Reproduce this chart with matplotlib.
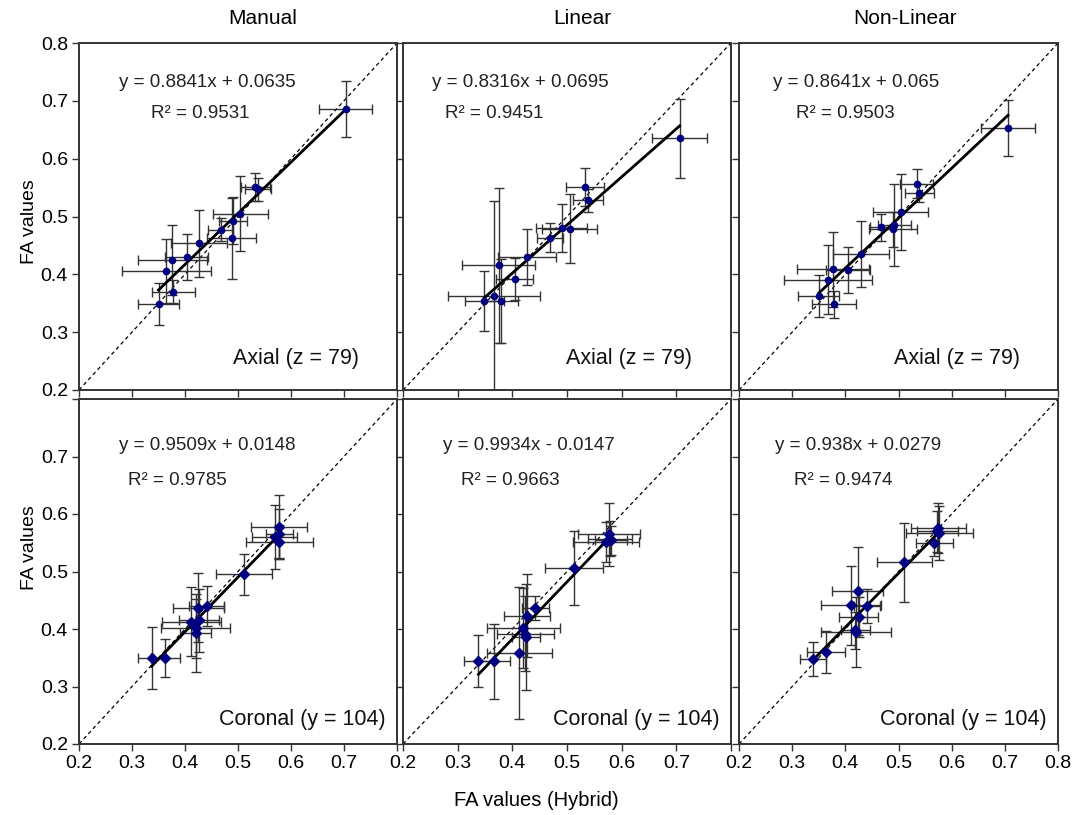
import matplotlib.pyplot as plt

plt.rcParams['font.family'] = ['Liberation Sans', 'DejaVu Sans']

# FA values (Hybrid) on x, method FA on y, with SD error bars
# --- Axial (z = 79) ---
manual_ax_x = [0.703, 0.533, 0.538, 0.504, 0.491, 0.467, 0.488, 0.426, 0.403, 0.376, 0.365, 0.378, 0.350]
manual_ax_y = [0.686, 0.551, 0.547, 0.505, 0.493, 0.477, 0.462, 0.454, 0.430, 0.425, 0.406, 0.370, 0.349]
manual_ax_xerr = [0.050, 0.028, 0.024, 0.052, 0.026, 0.023, 0.046, 0.053, 0.041, 0.065, 0.084, 0.041, 0.039]
manual_ax_yerr = [0.048, 0.025, 0.020, 0.065, 0.040, 0.020, 0.070, 0.058, 0.040, 0.060, 0.055, 0.020, 0.036]

linear_ax_x = [0.706, 0.533, 0.538, 0.490, 0.505, 0.469, 0.426, 0.375, 0.404, 0.366, 0.349, 0.379]
linear_ax_y = [0.635, 0.551, 0.528, 0.480, 0.479, 0.463, 0.430, 0.416, 0.392, 0.363, 0.354, 0.354]
linear_ax_xerr = [0.050, 0.034, 0.027, 0.046, 0.050, 0.023, 0.053, 0.067, 0.034, 0.084, 0.035, 0.032]
linear_ax_yerr = [0.068, 0.032, 0.020, 0.042, 0.060, 0.025, 0.048, 0.134, 0.036, 0.163, 0.052, 0.072]

nonlin_ax_x = [0.706, 0.534, 0.539, 0.504, 0.492, 0.468, 0.490, 0.429, 0.377, 0.405, 0.368, 0.350, 0.379]
nonlin_ax_y = [0.653, 0.557, 0.541, 0.508, 0.485, 0.481, 0.478, 0.435, 0.409, 0.407, 0.391, 0.362, 0.348]
nonlin_ax_xerr = [0.050, 0.031, 0.027, 0.052, 0.031, 0.022, 0.045, 0.053, 0.068, 0.042, 0.083, 0.039, 0.041]
nonlin_ax_yerr = [0.048, 0.025, 0.016, 0.066, 0.071, 0.023, 0.030, 0.057, 0.065, 0.040, 0.060, 0.036, 0.024]

# --- Coronal (y = 104) ---
manual_co_x = [0.578, 0.569, 0.578, 0.578, 0.512, 0.441, 0.425, 0.412, 0.427, 0.420, 0.420, 0.337, 0.363]
manual_co_y = [0.578, 0.560, 0.565, 0.551, 0.495, 0.440, 0.437, 0.413, 0.415, 0.401, 0.393, 0.350, 0.350]
manual_co_xerr = [0.053, 0.042, 0.025, 0.063, 0.053, 0.033, 0.048, 0.056, 0.038, 0.065, 0.030, 0.025, 0.028]
manual_co_yerr = [0.055, 0.056, 0.044, 0.030, 0.035, 0.034, 0.060, 0.060, 0.055, 0.052, 0.068, 0.054, 0.033]

linear_co_x = [0.577, 0.579, 0.571, 0.581, 0.513, 0.442, 0.426, 0.420, 0.424, 0.425, 0.413, 0.338, 0.366]
linear_co_y = [0.565, 0.557, 0.551, 0.554, 0.506, 0.437, 0.423, 0.402, 0.392, 0.386, 0.358, 0.344, 0.344]
linear_co_xerr = [0.056, 0.040, 0.060, 0.029, 0.053, 0.025, 0.042, 0.067, 0.052, 0.026, 0.059, 0.026, 0.030]
linear_co_yerr = [0.055, 0.030, 0.035, 0.026, 0.065, 0.021, 0.072, 0.070, 0.065, 0.092, 0.115, 0.045, 0.065]

nonlin_co_x = [0.575, 0.577, 0.573, 0.567, 0.511, 0.423, 0.411, 0.441, 0.425, 0.420, 0.419, 0.364, 0.339]
nonlin_co_y = [0.576, 0.567, 0.570, 0.549, 0.516, 0.466, 0.441, 0.440, 0.421, 0.395, 0.398, 0.360, 0.348]
nonlin_co_xerr = [0.052, 0.063, 0.038, 0.035, 0.052, 0.048, 0.057, 0.025, 0.037, 0.066, 0.028, 0.036, 0.024]
nonlin_co_yerr = [0.044, 0.047, 0.036, 0.022, 0.069, 0.076, 0.068, 0.029, 0.035, 0.061, 0.032, 0.036, 0.030]

methods = ['Manual', 'Linear', 'Non-Linear']
slices = ['Axial (z = 79)', 'Coronal (y = 104)']

slopes = [[0.8841, 0.8316, 0.8641], [0.9509, 0.9934, 0.938]]
intercepts = [[0.0635, 0.0695, 0.065], [0.0148, -0.0147, 0.0279]]
eq_labels = [['y = 0.8841x + 0.0635', 'y = 0.8316x + 0.0695', 'y = 0.8641x + 0.065'],
             ['y = 0.9509x + 0.0148', 'y = 0.9934x - 0.0147', 'y = 0.938x + 0.0279']]
r2_labels = [['0.9531', '0.9451', '0.9503'], ['0.9785', '0.9663', '0.9474']]

panels = [
    [(manual_ax_x, manual_ax_y, manual_ax_xerr, manual_ax_yerr),
     (linear_ax_x, linear_ax_y, linear_ax_xerr, linear_ax_yerr),
     (nonlin_ax_x, nonlin_ax_y, nonlin_ax_xerr, nonlin_ax_yerr)],
    [(manual_co_x, manual_co_y, manual_co_xerr, manual_co_yerr),
     (linear_co_x, linear_co_y, linear_co_xerr, linear_co_yerr),
     (nonlin_co_x, nonlin_co_y, nonlin_co_xerr, nonlin_co_yerr)],
]

W, H = 1074, 815
fig = plt.figure(figsize=(W / 100, H / 100), dpi=100)

# pixel boxes of the panels (left, right) and (top, bottom)
cols = [(79, 397), (403, 731), (739, 1058)]
rows = [(43, 390), (399, 744)]
eq_pos = [[(0.126, 0.225), (0.088, 0.128), (0.107, 0.18)],
          [(0.126, 0.154), (0.122, 0.177), (0.113, 0.172)]]

ticks = [0.2, 0.3, 0.4, 0.5, 0.6, 0.7, 0.8]
edge = '#333333'

for r in range(2):
    for c in range(3):
        l, rt = cols[c]
        t, b = rows[r]
        ax = fig.add_axes([l / W, 1 - b / H, (rt - l) / W, (b - t) / H])
        x, y, xe, ye = panels[r][c]

        ax.plot([0.2, 0.8], [0.2, 0.8], color='black', lw=0.9, dashes=(3, 2.5), zorder=1)
        ax.errorbar(x, y, xerr=xe, yerr=ye, fmt='none', ecolor=edge,
                    elinewidth=1.0, capsize=3.5, capthick=1.0, zorder=2)
        x0, x1 = min(x), max(x)
        ax.plot([x0, x1], [slopes[r][c] * x0 + intercepts[r][c], slopes[r][c] * x1 + intercepts[r][c]],
                color='black', lw=2.0, zorder=3)
        ax.plot(x, y, linestyle='none', marker='o' if r == 0 else 'D',
                ms=4.5 if r == 0 else 5, color='#000080', zorder=4)

        ax.set_xlim(0.2, 0.8)
        ax.set_ylim(0.2, 0.8)
        ax.set_xticks(ticks)
        ax.set_yticks(ticks)
        ax.tick_params(direction='out', length=5, width=1.0, color=edge, labelsize=14, pad=3)
        for s in ax.spines.values():
            s.set_color(edge)
            s.set_linewidth(1.4)

        if r == 0:
            ax.set_xticklabels([])
        else:
            ax.set_xticklabels(['0.2', '0.3', '0.4', '0.5', '0.6', '0.7', '0.8' if c == 2 else ''])
        if c == 0:
            ax.set_yticklabels(['0.2', '0.3', '0.4', '0.5', '0.6', '0.7', '0.8' if r == 0 else ''])
        else:
            ax.set_yticklabels([])

        ex, rx = eq_pos[r][c]
        ey = 0.887 if r == 0 else 0.864
        ax.text(ex, ey, eq_labels[r][c], transform=ax.transAxes, fontsize=13.5,
                ha='left', va='center', color='#222222')
        ax.text(rx, ey - 0.09 if r == 0 else ey - 0.10, 'R² = ' + r2_labels[r][c],
                transform=ax.transAxes, fontsize=13.5, ha='left', va='center', color='#222222')
        ax.text(0.88 if r == 0 else 0.965, 0.09 if r == 0 else 0.07, slices[r],
                transform=ax.transAxes, fontsize=15.5, ha='right', va='center', color='#111111')

for name, xc in zip(methods, [263, 582, 905]):
    fig.text(xc / W, 1 - 18 / H, name, fontsize=15, ha='center', va='center')

fig.text(30 / W, 1 - 222 / H, 'FA values', rotation=90, fontsize=14, ha='center', va='center')
fig.text(30 / W, 1 - 548 / H, 'FA values', rotation=90, fontsize=14, ha='center', va='center')
fig.text(536 / W, 1 - 800 / H, 'FA values (Hybrid)', fontsize=14.5, ha='center', va='center')

fig.savefig('out.png', dpi=100)
